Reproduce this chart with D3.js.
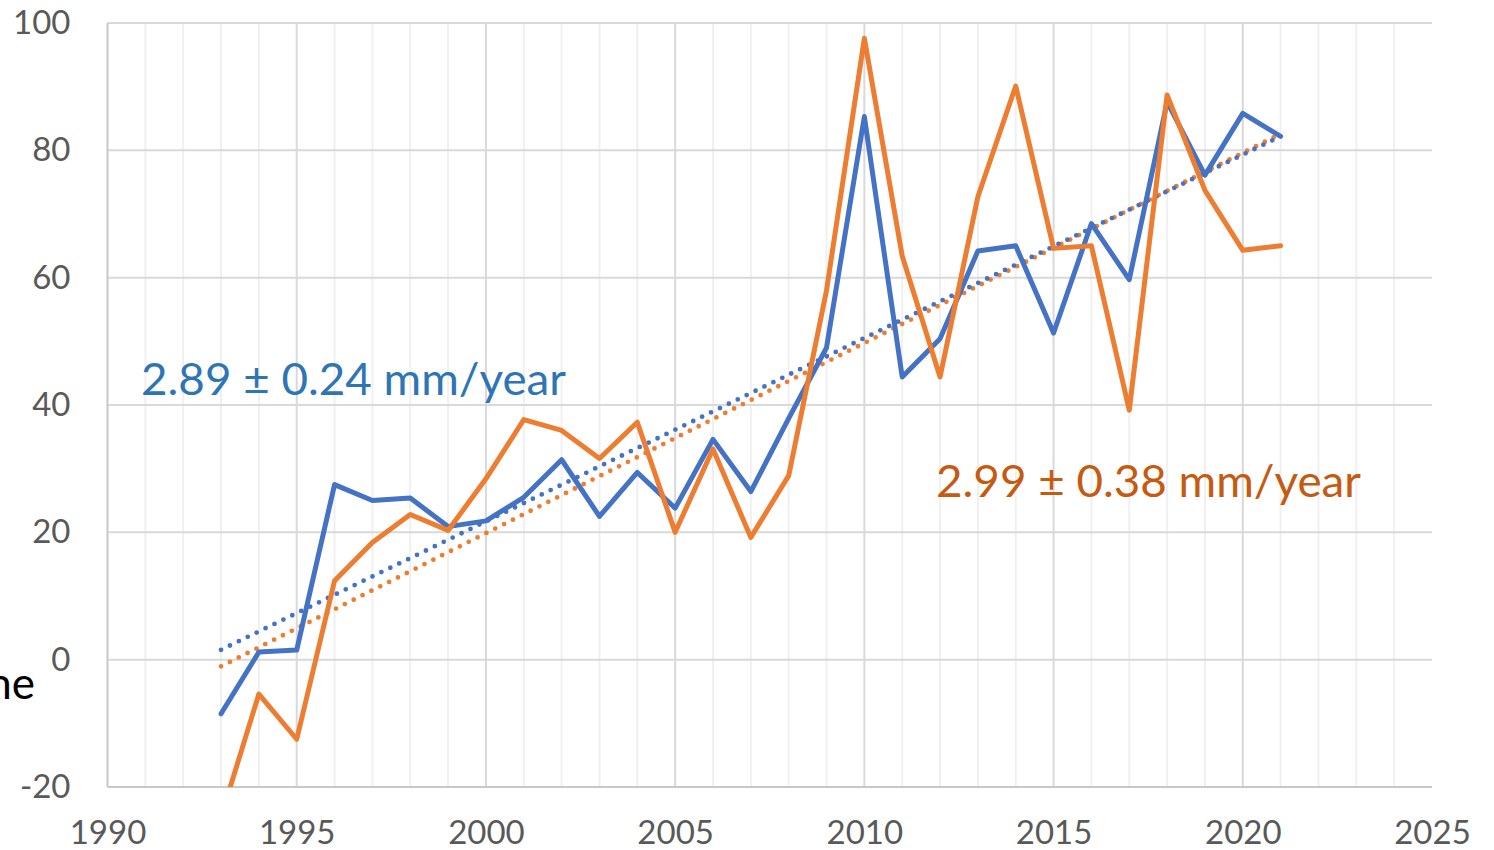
<!DOCTYPE html>
<html><head><meta charset="utf-8">
<script src="https://cdn.jsdelivr.net/npm/d3@7"></script>
<style>body{margin:0;background:#fff}svg{display:block}text{font-family:Lato,"Open Sans",sans-serif}</style>
</head><body>
<svg id="c" width="1494" height="850"></svg>
<script>
const years = d3.range(1993, 2022);
const blueValues = [-8.5,1.2,1.5,27.5,25.0,25.4,20.9,21.8,25.5,31.4,22.5,29.4,23.8,34.6,26.4,37.9,49.0,85.3,44.4,50.4,64.2,65.0,51.3,68.5,59.7,87.6,76.1,85.8,82.2];
const orangeValues = [-24.7,-5.4,-12.5,12.4,18.4,22.8,20.3,28.4,37.7,36.0,31.6,37.3,20.0,33.1,19.2,28.9,58.0,97.6,63.4,44.4,72.7,90.1,64.6,65.0,39.2,88.7,73.7,64.3,65.0];
const trendYears = [1993, 2021];
const blueTrend = [1.55, 82.2];
const orangeTrend = [-1.05, 82.6];
const xTicks = [1990,1995,2000,2005,2010,2015,2020,2025];
const yTicks = [-20,0,20,40,60,80,100];
const blueLabel = "2.89 ± 0.24 mm/year";
const orangeLabel = "2.99 ± 0.38 mm/year";

const svg = d3.select("#c");
const x = d3.scaleLinear().domain([1990, 2025]).range([107.5, 1432]);
const y = d3.scaleLinear().domain([-20, 100]).range([787, 23]);

// vertical grid (every year)
svg.append("g").selectAll("line").data(d3.range(1991, 2025)).join("line")
  .attr("x1", d => x(d)).attr("x2", d => x(d)).attr("y1", y(100)).attr("y2", y(-20))
  .attr("stroke", d => d % 5 === 0 ? "#d9d9d9" : "#f0f0f0").attr("stroke-width", 2);
// horizontal grid
svg.append("g").selectAll("line").data(yTicks.filter(d => d > -20)).join("line")
  .attr("x1", x(1990)).attr("x2", x(2025)).attr("y1", d => y(d)).attr("y2", d => y(d))
  .attr("stroke", "#d9d9d9").attr("stroke-width", 2);
// axes lines
svg.append("line").attr("x1", x(1990)).attr("x2", x(1990)).attr("y1", y(100)).attr("y2", y(-20)).attr("stroke", "#c8c8c8").attr("stroke-width", 2);
svg.append("line").attr("x1", x(1990)).attr("x2", x(2025)).attr("y1", y(-20)).attr("y2", y(-20)).attr("stroke", "#c8c8c8").attr("stroke-width", 2);

// y-axis labels
const yAxis = d3.axisLeft(y).tickValues(yTicks).tickSize(0).tickPadding(37).tickFormat(d => String(d));
const ya = svg.append("g").attr("transform", `translate(${x(1990)},0)`).call(yAxis);
ya.select(".domain").remove();
ya.selectAll("text").attr("font-size", 33).attr("fill", "#595959").attr("font-family", "Lato");

// x-axis labels
const xAxis = d3.axisBottom(x).tickValues(xTicks).tickSize(0).tickPadding(34).tickFormat(d => String(d));
const xa = svg.append("g").attr("transform", `translate(0,${y(-20)})`).call(xAxis);
xa.select(".domain").remove();
xa.selectAll("text").attr("font-size", 33).attr("fill", "#595959").attr("font-family", "Lato");

svg.append("defs").append("clipPath").attr("id", "plot").append("rect")
  .attr("x", x(1990)).attr("y", 0).attr("width", x(2025) - x(1990)).attr("height", y(-20) - 0);

const g = svg.append("g").attr("clip-path", "url(#plot)");
const line = d3.line().x(d => x(d[0])).y(d => y(d[1]));

// trend lines
g.append("path").datum(trendYears.map((t, i) => [t, orangeTrend[i]])).attr("d", line)
  .attr("fill", "none").attr("stroke", "#ed7d31").attr("stroke-width", 4.8)
  .attr("stroke-linecap", "round").attr("stroke-dasharray", "0 9.9");
g.append("path").datum(trendYears.map((t, i) => [t, blueTrend[i]])).attr("d", line)
  .attr("fill", "none").attr("stroke", "#4472c4").attr("stroke-width", 4.8)
  .attr("stroke-linecap", "round").attr("stroke-dasharray", "0 9.9");

// series lines
g.append("path").datum(years.map((t, i) => [t, blueValues[i]])).attr("d", line)
  .attr("fill", "none").attr("stroke", "#4472c4").attr("stroke-width", 5)
  .attr("stroke-linejoin", "round").attr("stroke-linecap", "round");
g.append("path").datum(years.map((t, i) => [t, orangeValues[i]])).attr("d", line)
  .attr("fill", "none").attr("stroke", "#ed7d31").attr("stroke-width", 5)
  .attr("stroke-linejoin", "round").attr("stroke-linecap", "round");

// annotations
svg.append("text").attr("x", 141).attr("y", 395).attr("font-size", 45).attr("fill", "#2e75b6")
  .attr("textLength", 425).attr("lengthAdjust", "spacingAndGlyphs").text(blueLabel);
svg.append("text").attr("x", 936).attr("y", 497).attr("font-size", 45).attr("fill", "#c55a11")
  .attr("textLength", 425).attr("lengthAdjust", "spacingAndGlyphs").text(orangeLabel);

// cut-off axis title fragment (partly outside the frame, as in the reference)
svg.append("text").attr("x", 35).attr("y", 699).attr("text-anchor", "end").attr("font-size", 44).attr("fill", "#000").text("ne");
</script>
</body></html>
